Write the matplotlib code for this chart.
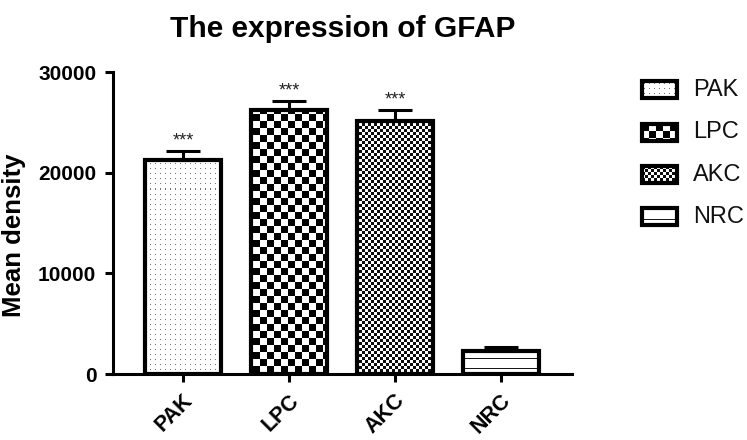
import numpy as np
import matplotlib
matplotlib.use('Agg')
import matplotlib.pyplot as plt
from matplotlib.patches import Rectangle
from matplotlib.transforms import ScaledTranslation

# ---- data ----
categories = ['PAK', 'LPC', 'AKC', 'NRC']
means = [21300, 26200, 25100, 2250]
errors = [900, 950, 1100, 450]
sig_labels = ['***', '***', '***', '']
yticks = [0, 10000, 20000, 30000]
ytick_labels = ['0', '10000', '20000', '30000']
patterns = ['dots', 'checker_big', 'checker_small', 'hlines']

plt.rcParams['font.family'] = ['Liberation Sans', 'DejaVu Sans']


def pattern(kind, h, w, scale=1.0):
    r = np.arange(h)[:, None]
    c = np.arange(w)[None, :]
    ones = np.ones((h, w))
    if kind == 'dots':
        s = 5
        img = np.where(((r % s) == 2) & ((c % s) == 2), 0.45, 1.0) * ones
    elif kind == 'checker_big':
        s = max(1, int(round(7 * scale)))
        img = np.where(((r // s + c // s) % 2) == 0, 0.0, 1.0) * ones
    elif kind == 'checker_small':
        s = max(1, int(round(3 * scale)))
        img = np.where(((r // s + c // s) % 2) == 0, 0.05, 1.0) * ones
    else:
        img = np.where(((h - 1 - r) % 10) == 5, 0.1, 1.0) * ones
    return img


fig = plt.figure(figsize=(7.47, 4.40), dpi=100)
ax = fig.add_axes([113 / 747, 66 / 440, 459 / 747, 302 / 440])
x = np.arange(len(categories))
XLIM = (-0.66, 3.67)
YLIM = (0, 30000)
ax.set_xlim(*XLIM)
ax.set_ylim(*YLIM)

bars = ax.bar(x, means, width=0.71, facecolor='none', edgecolor='black',
              linewidth=3, zorder=3)
W = int(round(ax.bbox.width))
H = int(round(ax.bbox.height))
for b, kind in zip(bars, patterns):
    im = ax.imshow(pattern(kind, H, W), cmap='gray', vmin=0, vmax=1,
                   extent=(XLIM[0], XLIM[1], YLIM[0], YLIM[1]), origin='upper',
                   aspect='auto', interpolation='nearest', zorder=2)
    im.set_clip_path(b)
ax.set_xlim(*XLIM)
ax.set_ylim(*YLIM)

ax.errorbar(x, means, yerr=[np.zeros(len(means)), errors], fmt='none',
            ecolor='black', elinewidth=2.2, capsize=12.5, capthick=2.2, zorder=4)

for xi, m, e, s in zip(x, means, errors, sig_labels):
    if s:
        ax.annotate(s, (xi, m + e), xytext=(0, 1), textcoords='offset points',
                    ha='center', va='bottom', fontsize=13, color='#222222')

for sp in ['top', 'right']:
    ax.spines[sp].set_visible(False)
for sp in ['left', 'bottom']:
    ax.spines[sp].set_linewidth(2.2)

ax.set_yticks(yticks)
ax.set_yticklabels(ytick_labels, fontsize=15, fontweight='bold')
ax.set_xticks(x)
ax.set_xticklabels(categories, fontsize=15.5, fontweight='bold', rotation=45,
                   ha='right', va='center', rotation_mode='anchor')
ax.tick_params(axis='both', length=6, width=2.2, direction='out')
ax.tick_params(axis='y', pad=6)
ax.tick_params(axis='x', pad=11)
for lbl in ax.get_xticklabels():
    lbl.set_transform(lbl.get_transform() + ScaledTranslation(5 / 72, 0, fig.dpi_scale_trans))

ax.set_ylabel('Mean density', fontsize=18.5, fontweight='bold')
ax.yaxis.set_label_coords(-0.19, 0.46)
ax.set_title('The expression of GFAP', fontsize=21.5, fontweight='bold', pad=25)

# ---- legend (drawn in figure pixel space) ----
lax = fig.add_axes([0, 0, 1, 1], facecolor='none')
lax.set_xlim(0, 747)
lax.set_ylim(440, 0)
lax.axis('off')
box_w, box_h = 35, 17
for i, (name, kind) in enumerate(zip(categories, patterns)):
    cy = 90 + i * 42.3
    x0, y0 = 642, cy - box_h / 2
    rect = Rectangle((x0, y0), box_w, box_h, facecolor='none', edgecolor='black',
                     linewidth=3, zorder=3)
    lax.add_patch(rect)
    im = lax.imshow(pattern(kind, box_h, box_w), cmap='gray', vmin=0, vmax=1,
                    extent=(x0, x0 + box_w, y0 + box_h, y0), origin='upper',
                    aspect='auto', interpolation='nearest', zorder=2)
    im.set_clip_path(rect)
    lax.text(693, cy, name, fontsize=17, va='center', ha='left', color='#111111')
lax.set_xlim(0, 747)
lax.set_ylim(440, 0)

fig.savefig('out.png', dpi=100)
